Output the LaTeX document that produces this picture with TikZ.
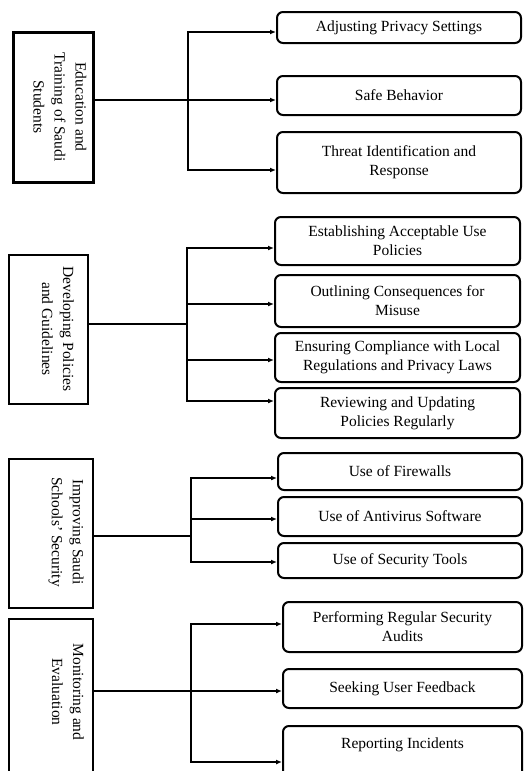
\documentclass[tikz,border=0pt]{standalone}
\usepackage{fontspec}
\setmainfont{Liberation Serif}
\usetikzlibrary{arrows.meta}
\begin{document}
\begin{tikzpicture}[x=1pt,y=-1pt,
  every node/.style={font=\fontsize{15.5}{19}\selectfont},
  mainbox/.style={draw, line width=2pt, inner sep=0pt},
  titletext/.style={rotate=-90, align=center, inner sep=0pt, font=\fontsize{15.5}{21}\selectfont},
  childbox/.style={draw, line width=2pt, rounded corners=6pt, align=center, inner sep=2pt, minimum width=#1},
  link/.style={line width=2pt},
  arr/.style={link, -{Latex[length=6pt,width=5pt]}},
  dblarr/.style={link, {Latex[length=6pt,width=5pt]}-{Latex[length=6pt,width=5pt]}}]
\useasboundingbox (0,0) rectangle (528,771);
\clip (0,0) rectangle (528,771);

% ---------- group 1
\node[mainbox, line width=3pt, minimum width=80pt, minimum height=150pt] (b1) at (53,107) {};
\node[titletext] (b1t) at (60,107) {Education and\\Training of Saudi\\Students};
\node[childbox=244pt, minimum height=31pt] (c11) at (399,27.5) {Adjusting Privacy Settings};
\node[childbox=244pt, minimum height=39pt] (c12) at (399,95.5) {Safe Behavior};
\node[childbox=244pt, minimum height=61pt] (c13) at (399,162.5) {Threat Identification and\\Response};
\coordinate (m1) at (188,100);
\coordinate (t1a) at (188,32);
\coordinate (t1b) at (188,170);
\draw[arr] (b1.east |- m1) -- (c12.west |- m1);
\draw[dblarr] (c11.west |- t1a) -- (t1a) -- (t1b) -- (c13.west |- t1b);

% ---------- group 2
\node[mainbox, minimum width=79pt, minimum height=149pt] (b2) at (48.5,329.5) {};
\node[titletext] (b2t) at (58,329) {Developing Policies\\and Guidelines};
\node[childbox=245pt, minimum height=48pt] (c21) at (397.5,241) {Establishing Acceptable Use\\Policies};
\node[childbox=245pt, minimum height=52pt] (c22) at (397.5,301) {Outlining Consequences for\\Misuse};
\node[childbox=245pt, minimum height=49pt] (c23) at (397.5,357.5) {Ensuring Compliance with Local\\Regulations and Privacy Laws};
\node[childbox=245pt, minimum height=50pt] (c24) at (397.5,413) {Reviewing and Updating\\Policies Regularly};
\coordinate (m2) at (187,324);
\coordinate (t2a) at (187,248);
\coordinate (t2b) at (187,304);
\coordinate (t2c) at (187,360);
\coordinate (t2d) at (187,401);
\draw[link] (b2.east |- m2) -- (m2);
\draw[dblarr] (c21.west |- t2a) -- (t2a) -- (t2d) -- (c24.west |- t2d);
\draw[arr] (t2b) -- (c22.west |- t2b);
\draw[arr] (t2c) -- (c23.west |- t2c);

% ---------- group 3
\node[mainbox, minimum width=84pt, minimum height=149pt] (b3) at (51,533.5) {};
\node[titletext] (b3t) at (66,532) {Improving Saudi\\Schools’ Security};
\node[childbox=244pt, minimum height=37pt] (c31) at (400,471.5) {Use of Firewalls};
\node[childbox=244pt, minimum height=39pt] (c32) at (400,516.5) {Use of Antivirus Software};
\node[childbox=244pt, minimum height=35pt] (c33) at (400,560.5) {Use of Security Tools};
\coordinate (m3) at (191,536);
\coordinate (t3a) at (191,478);
\coordinate (t3b) at (191,519);
\coordinate (t3c) at (191,562);
\draw[link] (b3.east |- m3) -- (m3);
\draw[dblarr] (c31.west |- t3a) -- (t3a) -- (t3c) -- (c33.west |- t3c);
\draw[arr] (t3b) -- (c32.west |- t3b);

% ---------- group 4
\node[mainbox, minimum width=84pt, minimum height=181pt] (b4) at (51,709.5) {};
\node[titletext] (b4t) at (68,692) {Monitoring and\\Evaluation};
\node[childbox=239pt, minimum height=50pt] (c41) at (402.5,627) {Performing Regular Security\\Audits};
\node[childbox=239pt, minimum height=39pt] (c42) at (402.5,688.5) {Seeking User Feedback};
\node[childbox=239pt, anchor=north, text height=20pt, text depth=50pt] (c43) at (402.5,725) {Reporting Incidents};
\coordinate (m4) at (191,691);
\coordinate (t4a) at (191,624);
\coordinate (t4c) at (191,762);
\draw[arr] (b4.east |- m4) -- (c42.west |- m4);
\draw[dblarr] (c41.west |- t4a) -- (t4a) -- (t4c) -- (c43.west |- t4c);
\end{tikzpicture}
\end{document}
